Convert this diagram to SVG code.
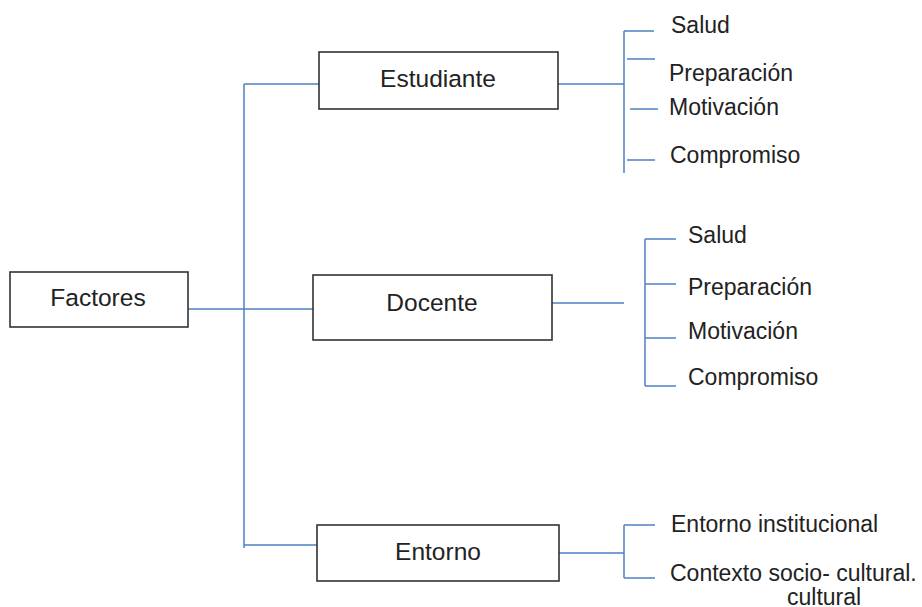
<svg xmlns="http://www.w3.org/2000/svg" width="922" height="607" viewBox="0 0 922 607">
<style>
.box{fill:#fff;stroke:#333;stroke-width:1.6}
.lbl{font-family:"Liberation Sans",Arial,sans-serif;font-size:24.5px;fill:#222;text-anchor:middle}
.leaf{font-family:"Liberation Sans",Arial,sans-serif;font-size:23px;fill:#222}
.ln{stroke:#4f81c4;stroke-width:1.5;fill:none}
</style>
<rect width="922" height="607" fill="#fff"/>
<g id="connectors">
<path class="ln" d="M244 84V548M244 84H322M188 309H315M244 545H317"/>
<path class="ln" d="M558 84H624M624 31V173M624 31H654M627 59H655M630 109H658M627 160H655"/>
<path class="ln" d="M552 303H624M645 239V386M645 239H676M645 284H676M645 338H676M645 386H676"/>
<path class="ln" d="M559 553H624M624 525V578M624 525H655M624 578H655"/>
</g>
<g id="factores"><rect class="box" x="10" y="272" width="178" height="55"/><text class="lbl" x="98" y="306">Factores</text></g>
<g id="estudiante"><rect class="box" x="319" y="52" width="239" height="57"/><text class="lbl" x="438" y="87">Estudiante</text></g>
<g id="docente"><rect class="box" x="313" y="275" width="239" height="65"/><text class="lbl" x="432" y="311">Docente</text></g>
<g id="entorno"><rect class="box" x="317" y="525" width="242" height="56"/><text class="lbl" x="438" y="560">Entorno</text></g>
<g id="est-items">
<text class="leaf" x="671" y="33">Salud</text>
<text class="leaf" x="669" y="81">Preparación</text>
<text class="leaf" x="669" y="115">Motivación</text>
<text class="leaf" x="670" y="163">Compromiso</text>
</g>
<g id="doc-items">
<text class="leaf" x="688" y="243">Salud</text>
<text class="leaf" x="688" y="295">Preparación</text>
<text class="leaf" x="688" y="339">Motivación</text>
<text class="leaf" x="688" y="385">Compromiso</text>
</g>
<g id="ent-items">
<text class="leaf" x="671" y="532">Entorno institucional</text>
<text class="leaf" x="670" y="581">Contexto socio- cultural.</text>
<text class="leaf" x="787" y="605">cultural</text>
</g>
</svg>
